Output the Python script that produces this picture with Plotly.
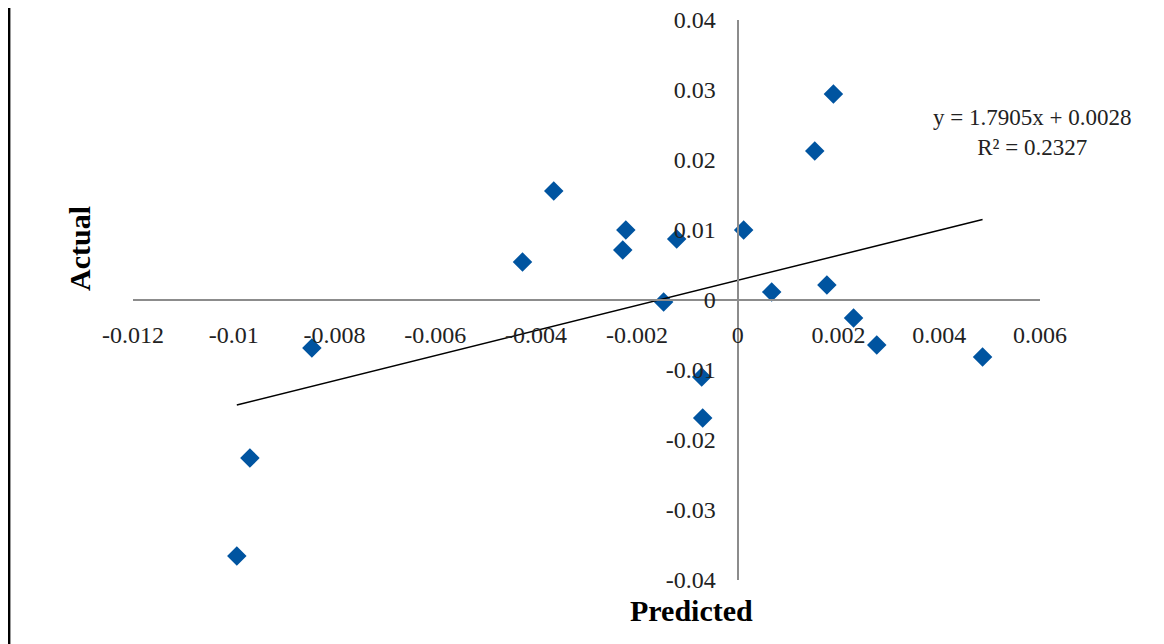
import plotly.graph_objects as go

# Data
predicted = [-0.00994, -0.00968, -0.00845, -0.00427, -0.00365, -0.00228, -0.00222,
             -0.00147, -0.00121, -0.000714, -0.000694, 0.000119, 0.000675, 0.00153,
             0.00177, 0.0019, 0.0023, 0.00276, 0.00486]
actual = [-0.03657, -0.02257, -0.00686, 0.00543, 0.01557, 0.00714, 0.0100,
          -0.0003, 0.00871, -0.0110, -0.01686, 0.0100, 0.00114, 0.02129,
          0.00214, 0.02943, -0.00257, -0.00643, -0.00814]

slope = 1.7905
intercept = 0.0028
r_squared = 0.2327

x_ticks = [-0.012, -0.01, -0.008, -0.006, -0.004, -0.002, 0, 0.002, 0.004, 0.006]
x_tick_labels = ["-0.012", "-0.01", "-0.008", "-0.006", "-0.004", "-0.002", "0", "0.002", "0.004", "0.006"]
y_ticks = [-0.04, -0.03, -0.02, -0.01, 0, 0.01, 0.02, 0.03, 0.04]
y_tick_labels = ["-0.04", "-0.03", "-0.02", "-0.01", "0", "0.01", "0.02", "0.03", "0.04"]

x_range = [-0.012, 0.006]
y_range = [-0.04, 0.04]

FONT = "Liberation Serif"

x_line = [min(predicted), max(predicted)]
y_line = [slope * v + intercept for v in x_line]

fig = go.Figure()
fig.add_trace(go.Scatter(
    x=predicted, y=actual, mode="markers",
    marker=dict(symbol="diamond", size=15, color="#0054A0"),
    showlegend=False, cliponaxis=False,
))
fig.add_trace(go.Scatter(
    x=x_line, y=y_line, mode="lines",
    line=dict(color="black", width=1.5),
    showlegend=False,
))

xpos = (0 - x_range[0]) / (x_range[1] - x_range[0])
ypos = (0 - y_range[0]) / (y_range[1] - y_range[0])

# plot area in page pixels: x 133..1040, y 20..580 (page body has 8px offset)
PW, PH = 907, 560
L = 125

fig.update_layout(
    width=1164, height=644,
    margin=dict(l=L, r=132, t=12, b=72, autoexpand=False),
    paper_bgcolor="white", plot_bgcolor="white",
    font=dict(family=FONT, size=24, color="#222222"),
    xaxis=dict(
        range=x_range, tickvals=x_ticks, ticktext=x_tick_labels,
        showgrid=False, zeroline=False, showline=True, linecolor="#8C8C8C", linewidth=2,
        anchor="free", position=ypos, ticks="", ticklabelstandoff=13,
        ticklabeloverflow="allow", automargin=False,
        tickfont=dict(family=FONT, size=24, color="#222222"),
    ),
    yaxis=dict(
        range=y_range, tickvals=y_ticks, ticktext=y_tick_labels,
        showgrid=False, zeroline=False, showline=True, linecolor="#8C8C8C", linewidth=2,
        anchor="free", position=xpos, ticks="", ticklabelstandoff=16,
        ticklabeloverflow="allow", automargin=False,
        tickfont=dict(family=FONT, size=24, color="#222222"),
    ),
    annotations=[
        dict(text=f"y = {slope}x + {intercept}<br>R² = {r_squared}",
             xref="paper", yref="paper", x=(1032 - 133) / PW, y=(580 - 133) / PH,
             xanchor="center", yanchor="middle", showarrow=False, align="center",
             font=dict(family=FONT, size=23, color="#222222")),
        dict(text="<b>Predicted</b>", xref="paper", yref="paper",
             x=(691 - 133) / PW, y=(580 - 610) / PH, xanchor="center", yanchor="middle",
             showarrow=False, font=dict(family=FONT, size=30, color="black")),
        dict(text="<b>Actual</b>", xref="paper", yref="paper",
             x=(79 - 133) / PW, y=(580 - 249) / PH, xanchor="center", yanchor="middle",
             textangle=-90, showarrow=False, font=dict(family=FONT, size=30, color="black")),
    ],
    shapes=[
        dict(type="line", xref="paper", yref="paper",
             x0=(1.2 - L) / PW, x1=(1.2 - L) / PW, y0=(580 + 20) / PH, y1=(580 - 660) / PH,
             line=dict(color="black", width=2.4)),
    ],
)

fig.write_html("out.html")
